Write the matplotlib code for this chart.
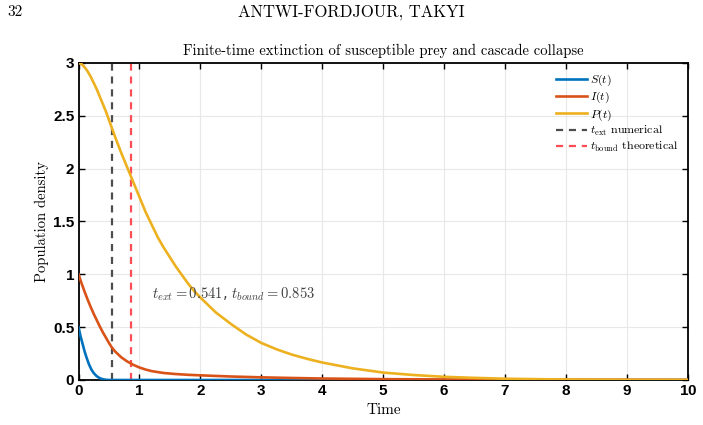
import matplotlib
matplotlib.use("Agg")
import matplotlib.pyplot as plt

# values
t_S = [0, 0.035, 0.07, 0.1, 0.13, 0.17, 0.21, 0.25, 0.3, 0.35, 0.4, 0.45,
       0.5, 0.541, 10]
S = [0.5, 0.41, 0.335, 0.27, 0.215, 0.15, 0.10, 0.065, 0.035, 0.017, 0.007,
     0.002, 0.0003, 0, 0]

t_I = [0, 0.05, 0.1, 0.15, 0.2, 0.25, 0.3, 0.35, 0.4, 0.45, 0.5, 0.55, 0.6,
       0.7, 0.8, 0.9, 1.0, 1.1, 1.2, 1.4, 1.6, 1.8, 2.0, 2.5, 3.0, 3.5, 4.0,
       5.0, 6.0, 7.0, 8.0, 10.0]
I = [1.0, 0.915, 0.835, 0.76, 0.69, 0.625, 0.565, 0.505, 0.45, 0.40, 0.35,
     0.305, 0.27, 0.215, 0.175, 0.143, 0.118, 0.099, 0.084, 0.066, 0.056,
     0.049, 0.044, 0.033, 0.025, 0.019, 0.014, 0.008, 0.005, 0.003, 0.002,
     0.001]

t_P = [0, 0.05, 0.1, 0.15, 0.2, 0.25, 0.3, 0.35, 0.4, 0.45, 0.5, 0.6, 0.7,
       0.8, 0.9, 1.0, 1.1, 1.2, 1.3, 1.4, 1.5, 1.6, 1.7, 1.8, 1.9, 2.0, 2.25,
       2.5, 2.75, 3.0, 3.25, 3.5, 3.75, 4.0, 4.5, 5.0, 5.5, 6.0, 6.5, 7.0,
       7.5, 8.0, 9.0, 10.0]
P = [3.0, 2.99, 2.96, 2.92, 2.87, 2.81, 2.75, 2.68, 2.61, 2.54, 2.46, 2.30,
     2.15, 2.01, 1.87, 1.73, 1.59, 1.47, 1.35, 1.25, 1.16, 1.07, 0.99, 0.91,
     0.84, 0.78, 0.64, 0.53, 0.43, 0.35, 0.29, 0.24, 0.20, 0.165, 0.11, 0.07,
     0.047, 0.03, 0.02, 0.012, 0.008, 0.005, 0.002, 0.001]

t_ext = 0.541
t_bound = 0.853

x_ticks = list(range(0, 11))
y_ticks = [0, 0.5, 1, 1.5, 2, 2.5, 3]
y_ticklabels = ['0', '0.5', '1', '1.5', '2', '2.5', '3']

plt.rcParams['mathtext.fontset'] = 'cm'
plt.rcParams['axes.formatter.use_mathtext'] = True
serif = 'cmr10'

fig = plt.figure(figsize=(7.03, 4.25), dpi=100)
ax = fig.add_axes([0.1117, 0.1059, 0.8673, 0.7459])

# page header
fig.text(0.011, 0.972, '32', family=serif, fontsize=11, va='center', ha='left')
fig.text(0.5, 0.972, 'ANTWI-FORDJOUR, TAKYI', family=serif, fontsize=12,
         va='center', ha='center')

ax.grid(True, color='#e8e8e8', linewidth=0.8, zorder=0)
ax.set_axisbelow(True)

ax.plot(t_S, S, color='#0072BD', lw=1.9, label='$S(t)$', zorder=3)
ax.plot(t_I, I, color='#D95319', lw=1.9, label='$I(t)$', zorder=3)
ax.plot(t_P, P, color='#EDB120', lw=1.9, label='$P(t)$', zorder=3)
ax.axvline(t_ext, color='#4d4d4d', lw=1.6, ls=(0, (3.2, 2.6)),
           label=r'$t_{\rm ext}$ numerical', zorder=2)
ax.axvline(t_bound, color='#ff4d55', lw=1.6, ls=(0, (3.2, 2.6)),
           label=r'$t_{\rm bound}$ theoretical', zorder=2)

ax.text(1.2, 0.81, r'$t_{ext} = 0.541$, $t_{bound} = 0.853$', fontsize=10.5,
        color='#404040', va='center', ha='left')

ax.set_xlim(0, 10)
ax.set_ylim(0, 3)
ax.set_xticks(x_ticks)
ax.set_yticks(y_ticks)
ax.set_yticklabels(y_ticklabels)
ax.tick_params(direction='in', length=4, width=1.0, top=True, right=True,
               labelsize=11, pad=3)
for lab in ax.get_xticklabels() + ax.get_yticklabels():
    lab.set_fontweight('bold')
    lab.set_family('Liberation Sans')
for sp in ax.spines.values():
    sp.set_linewidth(1.3)

ax.set_title('Finite-time extinction of susceptible prey and cascade collapse',
             family=serif, fontsize=10.6, pad=6)
ax.set_xlabel('Time', family=serif, fontsize=11, labelpad=4)
ax.set_ylabel('Population density', family=serif, fontsize=10.5, labelpad=3)

leg = ax.legend(loc='upper right', frameon=False, prop={'family': serif, 'size': 8.6},
                handlelength=2.6, handletextpad=0.2, labelspacing=0.14,
                borderaxespad=0.45)

fig.savefig('out.png', dpi=100)
